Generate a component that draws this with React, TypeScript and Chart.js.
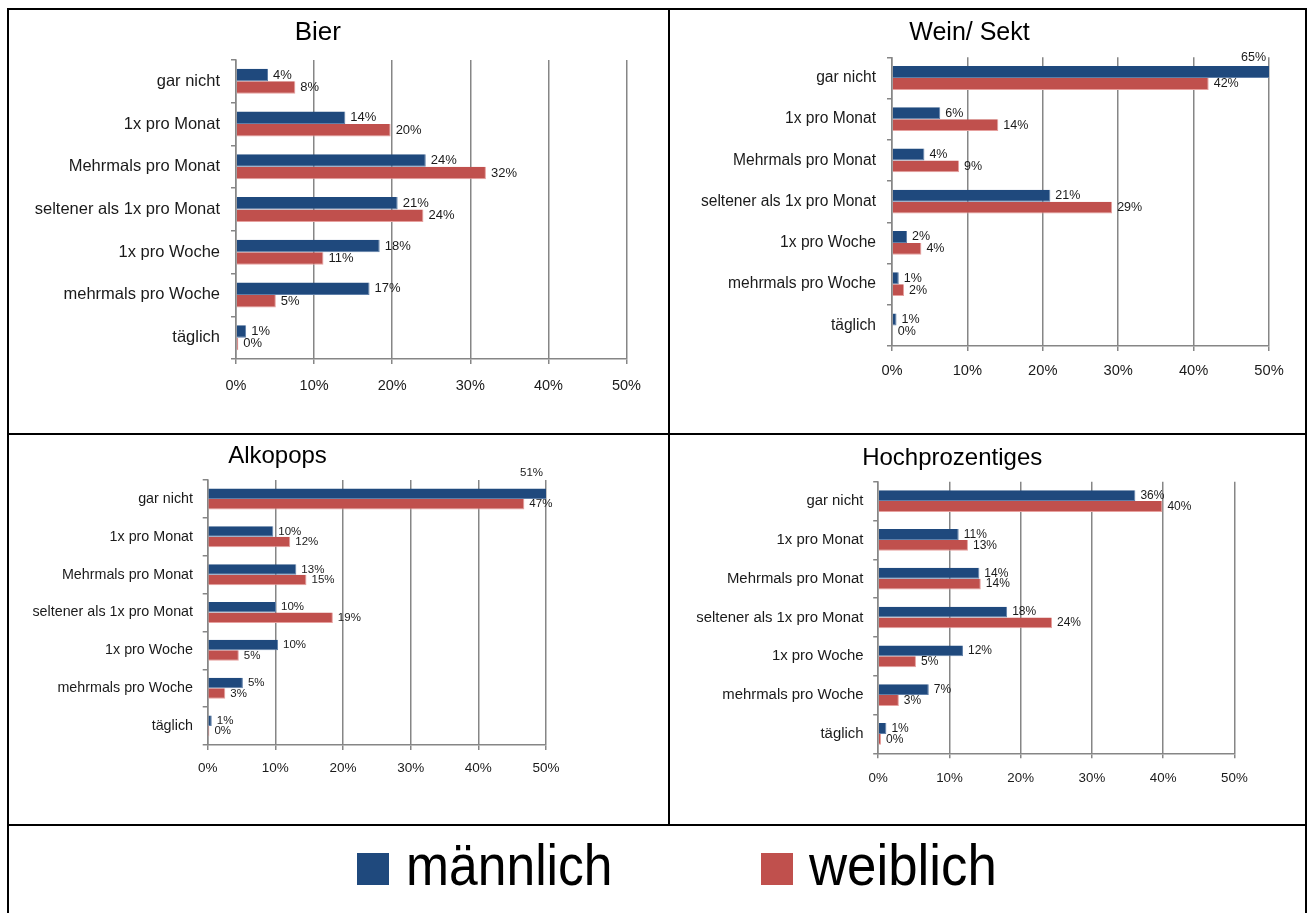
import React, { useEffect, useRef } from 'react';
import { Chart, registerables } from 'chart.js';

Chart.register(...registerables);

// ---------- data ----------
const CATEGORIES = [
  'gar nicht',
  '1x pro Monat',
  'Mehrmals pro Monat',
  'seltener als 1x pro Monat',
  '1x pro Woche',
  'mehrmals pro Woche',
  'täglich',
];
const SERIES_NAMES = ['männlich', 'weiblich'];

const X_MAX = 50;
const X_STEP = 10;

const BIER_M = [4.1, 14.0, 24.3, 20.7, 18.4, 17.1, 1.3];
const BIER_W = [7.6, 19.8, 32.0, 24.0, 11.2, 5.1, 0.3];
const WEIN_M = [65.0, 6.4, 4.3, 21.0, 2.0, 0.9, 0.6];
const WEIN_W = [42.0, 14.1, 8.9, 29.2, 3.9, 1.6, 0.1];
const ALKO_M = [51.0, 9.7, 13.1, 10.1, 10.4, 5.2, 0.6];
const ALKO_W = [46.8, 12.2, 14.6, 18.5, 4.6, 2.6, 0.25];
const HOCH_M = [36.1, 11.3, 14.2, 18.1, 11.9, 7.1, 1.15];
const HOCH_W = [39.9, 12.6, 14.4, 24.4, 5.3, 2.9, 0.4];

// ---------- style ----------
const FONT = "'Liberation Sans', Arial, Helvetica, sans-serif";
const BLUE = '#1F497D';
const RED = '#C0504D';
const BLUE_EDGE = '#5f7fa8';
const RED_EDGE = '#e6a09e';
const GRID = '#868686';
const TEXT = '#1a1a1a';

type Spec = {
  title: string;
  m: number[];
  w: number[];
  left: number;
  top: number;
  width: number;
  height: number;
  titleSize: number;
  titlePadTop: number;
  titlePadBottom: number;
  yAxisWidth: number;
  xAxisHeight: number;
  padRight: number;
  catFont: number;
  catPad: number;
  tickFont: number;
  tickPad: number;
  labelFont: number;
  lift: number;
  catPct: number;
};

function makeLabelPlugin(size: number, lift: number) {
  return {
    id: 'valueLabels',
    afterDatasetsDraw(chart: any) {
      const { ctx, chartArea } = chart;
      const max = chart.scales.x.max;
      ctx.save();
      ctx.font = `${size}px ${FONT}`;
      ctx.fillStyle = TEXT;
      ctx.textBaseline = 'middle';
      chart.data.datasets.forEach((ds: any, di: number) => {
        const meta = chart.getDatasetMeta(di);
        meta.data.forEach((bar: any, i: number) => {
          const v = ds.data[i] as number;
          const txt = Math.round(v) + '%';
          const { x, y, height } = bar.getProps(['x', 'y', 'height'], true);
          if (v > max) {
            ctx.textAlign = 'right';
            ctx.fillText(txt, chartArea.right - 3, y - height / 2 - lift);
          } else {
            ctx.textAlign = 'left';
            ctx.fillText(txt, x + 5, y);
          }
        });
      });
      ctx.restore();
    },
  };
}

function BarPanel({ s }: { s: Spec }) {
  const ref = useRef<HTMLCanvasElement | null>(null);
  useEffect(() => {
    if (!ref.current) return;
    const chart = new Chart(ref.current, {
      type: 'bar',
      data: {
        labels: CATEGORIES,
        datasets: [
          {
            label: SERIES_NAMES[0],
            data: s.m,
            backgroundColor: BLUE,
            borderColor: BLUE_EDGE,
            borderWidth: { top: 0, left: 0, right: 1, bottom: 1 },
            categoryPercentage: s.catPct,
            barPercentage: 1,
          },
          {
            label: SERIES_NAMES[1],
            data: s.w,
            backgroundColor: RED,
            borderColor: RED_EDGE,
            borderWidth: { top: 0, left: 0, right: 1, bottom: 1 },
            categoryPercentage: s.catPct,
            barPercentage: 1,
          },
        ],
      },
      options: {
        indexAxis: 'y',
        responsive: false,
        animation: false,
        devicePixelRatio: 1,
        layout: { padding: { left: 0, right: s.padRight, top: 0, bottom: 0 } },
        plugins: {
          legend: { display: false },
          tooltip: { enabled: false },
          title: {
            display: true,
            text: s.title,
            color: '#000',
            font: { family: FONT, size: s.titleSize, weight: 'normal' },
            padding: { top: s.titlePadTop, bottom: s.titlePadBottom },
          },
        },
        scales: {
          x: {
            min: 0,
            max: X_MAX,
            ticks: {
              stepSize: X_STEP,
              color: TEXT,
              font: { family: FONT, size: s.tickFont },
              padding: s.tickPad,
              callback: (v: any) => v + '%',
            },
            grid: { color: GRID, lineWidth: 1.5, tickLength: 5, drawOnChartArea: true },
            border: { display: true, color: GRID, width: 1.5 },
            afterFit: (scale: any) => {
              scale.height = s.xAxisHeight;
            },
          },
          y: {
            ticks: {
              color: TEXT,
              font: { family: FONT, size: s.catFont },
              padding: s.catPad,
            },
            grid: { color: GRID, lineWidth: 1.5, tickLength: 5, drawOnChartArea: false },
            border: { display: true, color: GRID, width: 1.5 },
            afterFit: (scale: any) => {
              scale.width = s.yAxisWidth;
            },
          },
        },
      } as any,
      plugins: [makeLabelPlugin(s.labelFont, s.lift)],
    });
    return () => chart.destroy();
  }, [s]);
  return (
    <canvas
      ref={ref}
      width={s.width}
      height={s.height}
      style={{ position: 'absolute', left: s.left, top: s.top, width: s.width, height: s.height }}
    />
  );
}

const PANELS: Spec[] = [
  {
    title: 'Bier', m: BIER_M, w: BIER_W,
    left: 9, top: 10, width: 659, height: 423,
    titleSize: 26, titlePadTop: 7.5, titlePadBottom: 11.3,
    yAxisWidth: 227, xAxisHeight: 74, padRight: 41.5,
    catFont: 16.5, catPad: 11, tickFont: 14.5, tickPad: 12.8, labelFont: 13, lift: 8, catPct: 0.585,
  },
  {
    title: 'Wein/ Sekt', m: WEIN_M, w: WEIN_W,
    left: 670, top: 10, width: 635, height: 423,
    titleSize: 25, titlePadTop: 8.5, titlePadBottom: 8.8,
    yAxisWidth: 222, xAxisHeight: 87, padRight: 36,
    catFont: 15.6, catPad: 11, tickFont: 14.7, tickPad: 11.2, labelFont: 12.5, lift: 8.7, catPct: 0.58,
  },
  {
    title: 'Alkopops', m: ALKO_M, w: ALKO_W,
    left: 9, top: 435, width: 576, height: 389,
    titleSize: 24, titlePadTop: 6.9, titlePadBottom: 9.3,
    yAxisWidth: 198.7, xAxisHeight: 79, padRight: 39,
    catFont: 14.3, catPad: 9.7, tickFont: 13.5, tickPad: 9.9, labelFont: 11.5, lift: 15.8, catPct: 0.555,
  },
  {
    title: 'Hochprozentiges', m: HOCH_M, w: HOCH_W,
    left: 670, top: 435, width: 605, height: 389,
    titleSize: 24, titlePadTop: 8.6, titlePadBottom: 9.3,
    yAxisWidth: 208.2, xAxisHeight: 70.7, padRight: 40.6,
    catFont: 14.9, catPad: 9.7, tickFont: 13.3, tickPad: 12, labelFont: 12, lift: 8, catPct: 0.56,
  },
];

const line = (l: number, t: number, w: number, h: number) => (
  <div style={{ position: 'absolute', left: l, top: t, width: w, height: h, background: '#000' }} />
);

export default function App() {
  return (
    <div
      style={{
        position: 'absolute', left: 0, top: 0, width: 1309, height: 913,
        overflow: 'hidden', background: '#fff',
      }}
    >
      {PANELS.map((p) => (
        <BarPanel key={p.title} s={p} />
      ))}
      {line(7, 8, 1300, 2)}
      {line(7, 8, 2, 905)}
      {line(1305, 8, 2, 905)}
      {line(668, 8, 2, 817)}
      {line(7, 433, 1300, 2)}
      {line(7, 824, 1300, 2)}
      <div style={{ position: 'absolute', left: 357, top: 852.5, width: 32, height: 32, background: BLUE }} />
      <div
        style={{
          position: 'absolute', left: 406, top: 836, fontFamily: FONT, fontSize: 58,
          lineHeight: '58px', color: '#000', whiteSpace: 'nowrap',
          transform: 'scaleX(0.89)', transformOrigin: 'left top',
        }}
      >
        {SERIES_NAMES[0]}
      </div>
      <div style={{ position: 'absolute', left: 761, top: 852.5, width: 32, height: 32, background: RED }} />
      <div
        style={{
          position: 'absolute', left: 808.6, top: 836, fontFamily: FONT, fontSize: 58,
          lineHeight: '58px', color: '#000', whiteSpace: 'nowrap',
          transform: 'scaleX(0.91)', transformOrigin: 'left top',
        }}
      >
        {SERIES_NAMES[1]}
      </div>
    </div>
  );
}
